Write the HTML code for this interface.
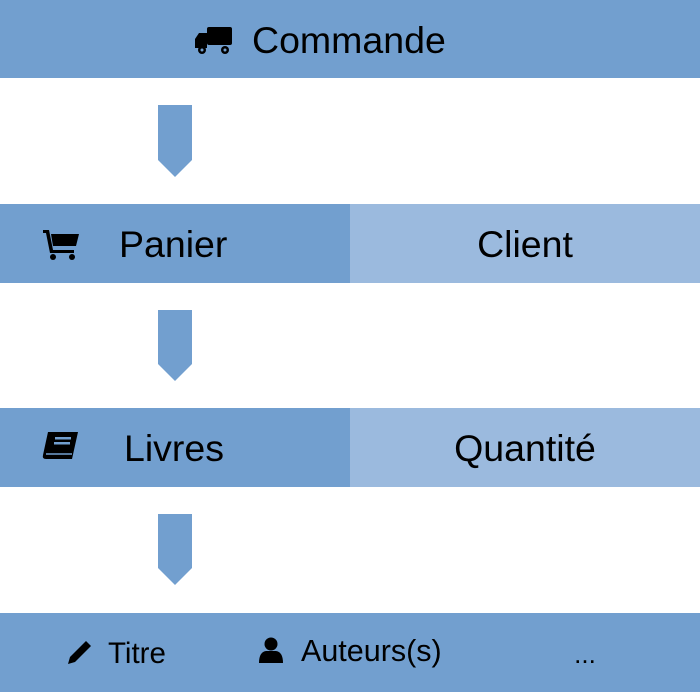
<!DOCTYPE html>
<html><head><meta charset="utf-8"><style>
html,body{margin:0;padding:0;background:#fff;width:700px;height:692px;overflow:hidden}
svg text{font-family:"Liberation Sans",sans-serif;fill:#000}
</style></head><body>
<svg width="700" height="692" viewBox="0 0 700 692" xmlns="http://www.w3.org/2000/svg">
<rect x="0" y="0" width="700" height="78" fill="#729fcf"/>
<rect x="0" y="204" width="350" height="79" fill="#729fcf"/>
<rect x="350" y="204" width="350" height="79" fill="#9bbade"/>
<rect x="0" y="408" width="350" height="79" fill="#729fcf"/>
<rect x="350" y="408" width="350" height="79" fill="#9bbade"/>
<rect x="0" y="613" width="700" height="79" fill="#729fcf"/>
<g fill="#729fcf">
<polygon points="158,105 192,105 192,160 175,177 158,160"/>
<polygon points="158,310 192,310 192,364 175,381 158,364"/>
<polygon points="158,514 192,514 192,568 175,585 158,568"/>
</g>
<!-- truck -->
<g fill="#000">
<rect x="207" y="27" width="25" height="18" rx="2"/>
<path d="M207 33 L199 33 L195 39 L195 48 L207 48 Z"/>
<circle cx="202" cy="50" r="4"/><circle cx="225" cy="50" r="4"/>
</g>
<circle cx="202" cy="50" r="1.5" fill="#729fcf"/><circle cx="225" cy="50" r="1.5" fill="#729fcf"/>
<text x="252" y="53" font-size="37.5">Commande</text>
<!-- cart -->
<g fill="#000">
<path d="M43 230 L49 230 L53 250 L74 250 L74 253 L50 253 L46 233 L43 233 Z"/>
<path d="M51 234 L79 234 L76 246 L53 246 Z"/>
<circle cx="53" cy="257" r="3"/><circle cx="72" cy="257" r="3"/>
</g>
<text x="119" y="257" font-size="37.5">Panier</text>
<text x="525" y="257" font-size="37.5" text-anchor="middle">Client</text>
<!-- book -->
<g>
<path d="M48 432 L78 432 L72 459 L46 459 Q42 459 43 455 Z" fill="#000"/>
<rect x="55" y="437" width="16" height="2.5" fill="#729fcf"/>
<rect x="54" y="442" width="16" height="2.5" fill="#729fcf"/>
<path d="M46 454 L72 454" stroke="#729fcf" stroke-width="1.5"/>
</g>
<text x="124" y="461" font-size="37.5">Livres</text>
<text x="525" y="461" font-size="37.5" text-anchor="middle">Quantité</text>
<!-- pencil -->
<path d="M68 664 L70 657 L86 641 L91 646 L75 662 Z" fill="#000"/>
<text x="108" y="663" font-size="29.5">Titre</text>
<!-- user -->
<g fill="#000">
<circle cx="271" cy="644" r="6.5"/>
<path d="M259 663 Q259 652 266 651 L276 651 Q283 652 283 663 Z"/>
</g>
<text x="301" y="661" font-size="30.5">Auteurs(s)</text>
<text x="585" y="663" font-size="26" text-anchor="middle">...</text>
</svg>
</body></html>
